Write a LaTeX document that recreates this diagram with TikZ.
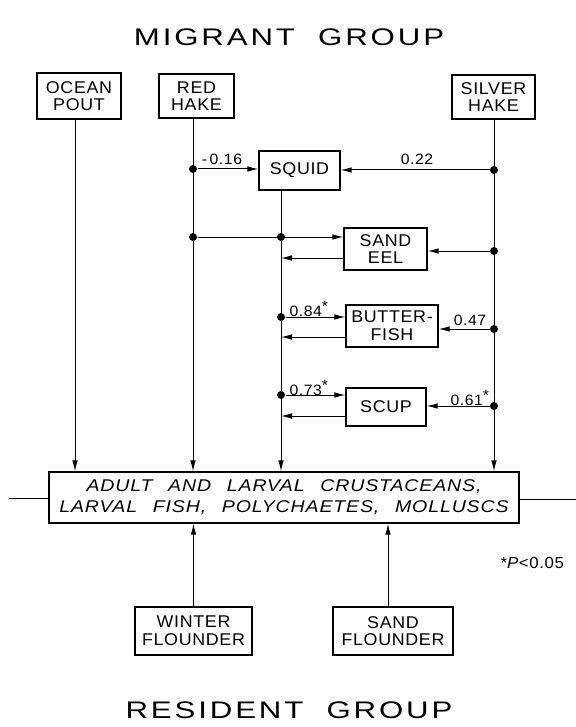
\documentclass[tikz,border=0pt]{standalone}
\usepackage{fontspec}
\usetikzlibrary{arrows.meta}

\newfontfamily\lettering[FakeStretch=1.05,LetterSpace=4]{Liberation Sans}
\newfontfamily\titlelettering[FakeStretch=1.3,LetterSpace=12,WordSpace=2]{Liberation Sans}
\newfontfamily\preylettering[FakeStretch=1.15,LetterSpace=5,WordSpace=2.5]{Liberation Sans}

\tikzset{
 fishbox/.style={draw, line width=0.7pt, inner sep=0pt, align=center,
   font=\lettering\fontsize{8.5}{8.8}\selectfont},
 coef/.style={inner sep=0pt, font=\lettering\fontsize{7.5}{8}\selectfont},
 dot/.style={circle, fill, inner sep=0pt, minimum size=4pt},
 flow/.style={-{Latex[length=5.5pt,width=2.8pt]}, line width=0.5pt},
}
\newcommand{\signstar}{\raisebox{2.5pt}{*}}

\begin{document}
\begin{tikzpicture}[x=0.5pt, y=-0.5pt, line width=0.5pt]

 \useasboundingbox (0,0) rectangle (576,727);

 \node[font=\titlelettering\fontsize{12}{14}\selectfont] (migrant) at (289,37) {MIGRANT GROUP};
 \node[font=\titlelettering\fontsize{12}{14}\selectfont] (resident) at (289,710) {RESIDENT GROUP};

 \node[fishbox, minimum width=42pt, minimum height=23pt] (pout) at (79,96) {OCEAN\\POUT};
 \node[fishbox, minimum width=37.5pt, minimum height=22pt] (redhake) at (196.5,96) {RED\\HAKE};
 \node[fishbox, minimum width=41.5pt, minimum height=22pt] (silverhake) at (493.5,97) {SILVER\\HAKE};
 \node[fishbox, minimum width=40.5pt, minimum height=19.5pt] (squid) at (299.5,170.5) {SQUID};
 \node[fishbox, minimum width=41.5pt, minimum height=21pt] (sandeel) at (385.5,249) {SAND\\EEL};
 \node[fishbox, minimum width=46pt, minimum height=21pt] (butterfish) at (392,326) {BUTTER-\\FISH};
 \node[fishbox, minimum width=40pt, minimum height=19pt] (scup) at (386,407) {SCUP};
 \node[fishbox, minimum width=235pt, minimum height=25.5pt,
   font=\preylettering\itshape\fontsize{8.5}{10.5}\selectfont] (prey) at (284,497.5)
   {ADULT AND LARVAL CRUSTACEANS,\\LARVAL FISH, POLYCHAETES, MOLLUSCS};
 \node[fishbox, minimum width=58.5pt, minimum height=24pt] (winter) at (193.5,631) {WINTER\\FLOUNDER};
 \node[fishbox, minimum width=60pt, minimum height=24pt] (sandflounder) at (393,631) {SAND\\FLOUNDER};

 \coordinate (poutx) at (75,0);
 \coordinate (redx) at (193,0);
 \coordinate (squidx) at (281,0);
 \coordinate (silverx) at (494,0);
 \coordinate (sandflx) at (388,0);

 % migrants down to the prey box
 \draw[flow] (pout.south -| poutx) -- (prey.north -| poutx);
 \draw[flow] (redhake.south -| redx) -- (prey.north -| redx);
 \draw[flow] (squid.south -| squidx) -- (prey.north -| squidx);
 \draw[flow] (silverhake.south -| silverx) -- (prey.north -| silverx);

 % residents up to the prey box
 \draw[flow] (winter.north) -- (prey.south -| winter.north);
 \draw[flow] (sandflounder.north -| sandflx) -- (prey.south -| sandflx);

 \coordinate (leftend) at (9,498);
 \coordinate (rightend) at (576,499);
 \draw (leftend) -- (prey.west |- leftend);
 \draw (prey.east |- rightend) -- (rightend);

 \node[dot] (r1) at (193,169) {};
 \node[dot] (r2) at (193,237) {};
 \node[dot] (s2) at (281,237) {};
 \node[dot] (s3) at (281,317) {};
 \node[dot] (s4) at (281,395) {};
 \node[dot] (v1) at (494,170) {};
 \node[dot] (v2) at (494,251) {};
 \node[dot] (v3) at (494,329) {};
 \node[dot] (v4) at (494,406) {};

 \draw[flow] (r1) -- (squid.west |- r1);
 \draw[flow] (v1) -- (squid.east |- v1);
 \draw[flow] (r2) -- (sandeel.west |- r2); % through s2
 \draw[flow] (v2) -- (sandeel.east |- v2);
 \draw[flow] (s3) -- (butterfish.west |- s3);
 \draw[flow] (v3) -- (butterfish.east |- v3);
 \draw[flow] (s4) -- (scup.west |- s4);
 \draw[flow] (v4) -- (scup.east |- v4);

 % back to the squid line
 \coordinate (eelback) at ([yshift=-4.5pt]sandeel.west);
 \coordinate (butterback) at ([yshift=-5.5pt]butterfish.west);
 \coordinate (scupback) at ([yshift=-4.5pt]scup.west);
 \draw[flow] (eelback) -- (eelback -| squidx);
 \draw[flow] (butterback) -- (butterback -| squidx);
 \draw[flow] (scupback) -- (scupback -| squidx);

 \node[coef] (c16) at (222,159) {-\,0.16};
 \node[coef] (c22) at (417,159) {0.22};
 \node[coef, anchor=west] (c84) at (289,309) {0.84\signstar};
 \node[coef] (c47) at (470,320) {0.47};
 \node[coef, anchor=west] (c73) at (289,388) {0.73\signstar};
 \node[coef, anchor=west] (c61) at (450,398) {0.61\signstar};
 \node[coef, anchor=west, font=\lettering\fontsize{8}{9}\selectfont] (signif) at (500,563) {*\textit{P}<0.05};

\end{tikzpicture}
\end{document}
